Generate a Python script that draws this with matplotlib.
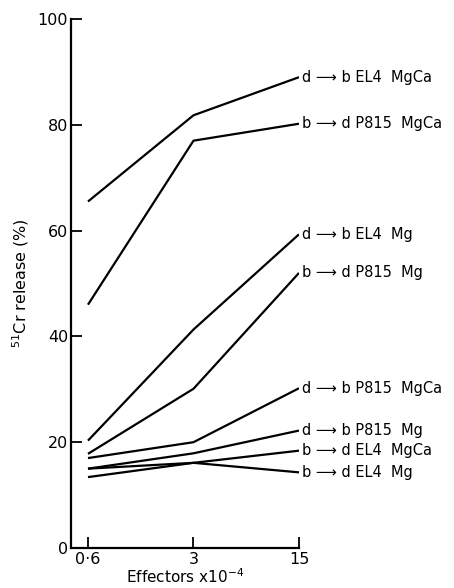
import matplotlib
matplotlib.use('Agg')

import matplotlib.pyplot as plt

# ============================================================
# DATA
# ============================================================

effectors = ['0·6', '3', '15']

series_labels = [
    'd ⟶ b EL4  MgCa',
    'b ⟶ d P815  MgCa',
    'd ⟶ b EL4  Mg',
    'b ⟶ d P815  Mg',
    'd ⟶ b P815  MgCa',
    'd ⟶ b P815  Mg',
    'b ⟶ d EL4  MgCa',
    'b ⟶ d EL4  Mg',
]

release = [
    [65.5, 81.8, 89.0],
    [46.0, 77.0, 80.2],
    [20.3, 41.3, 59.3],
    [17.8, 30.1, 52.0],
    [17.0, 20.0, 30.2],
    [15.0, 17.9, 22.2],
    [13.4, 16.1, 18.4],
    [15.0, 16.1, 14.3],
]

yticks = [0, 20, 40, 60, 80, 100]

# ============================================================
# FIGURE
# ============================================================

plt.rcParams['font.family'] = ['DejaVu Sans']

fig = plt.figure(figsize=(4.54, 5.88), dpi=100)

ax = fig.add_axes([71 / 454, 1 - 548 / 588, 228 / 454, 529 / 588])

xpos = list(range(len(effectors)))

for vals, lab in zip(release, series_labels):

    ax.plot(
        xpos,
        vals,
        color='black',
        lw=1.6,
        solid_capstyle='butt'
    )

    ax.annotate(
        lab,
        xy=(xpos[-1], vals[-1]),
        xytext=(2.5, 0),
        textcoords='offset points',
        va='center',
        ha='left',
        fontsize=10.5,
        annotation_clip=False
    )

ax.set_xlim(-0.161, 2.0)
ax.set_ylim(0, 100)

ax.set_xticks(xpos)
ax.set_xticklabels(effectors, fontsize=11.5)

ax.set_yticks(yticks)
ax.set_yticklabels([str(v) for v in yticks], fontsize=11.5)

ax.tick_params(
    direction='in',
    length=8,
    width=1.3,
    pad=3
)

ax.tick_params(axis='y', pad=2)

for side in ['top', 'right']:
    ax.spines[side].set_visible(False)

for side in ['left', 'bottom']:
    ax.spines[side].set_linewidth(1.6)

ax.set_ylabel(r'$^{51}$Cr release (%)', fontsize=11.5, labelpad=5)
ax.set_xlabel(r'Effectors x10$^{-4}$', fontsize=11, labelpad=0)

fig.savefig('out.png', dpi=100)
